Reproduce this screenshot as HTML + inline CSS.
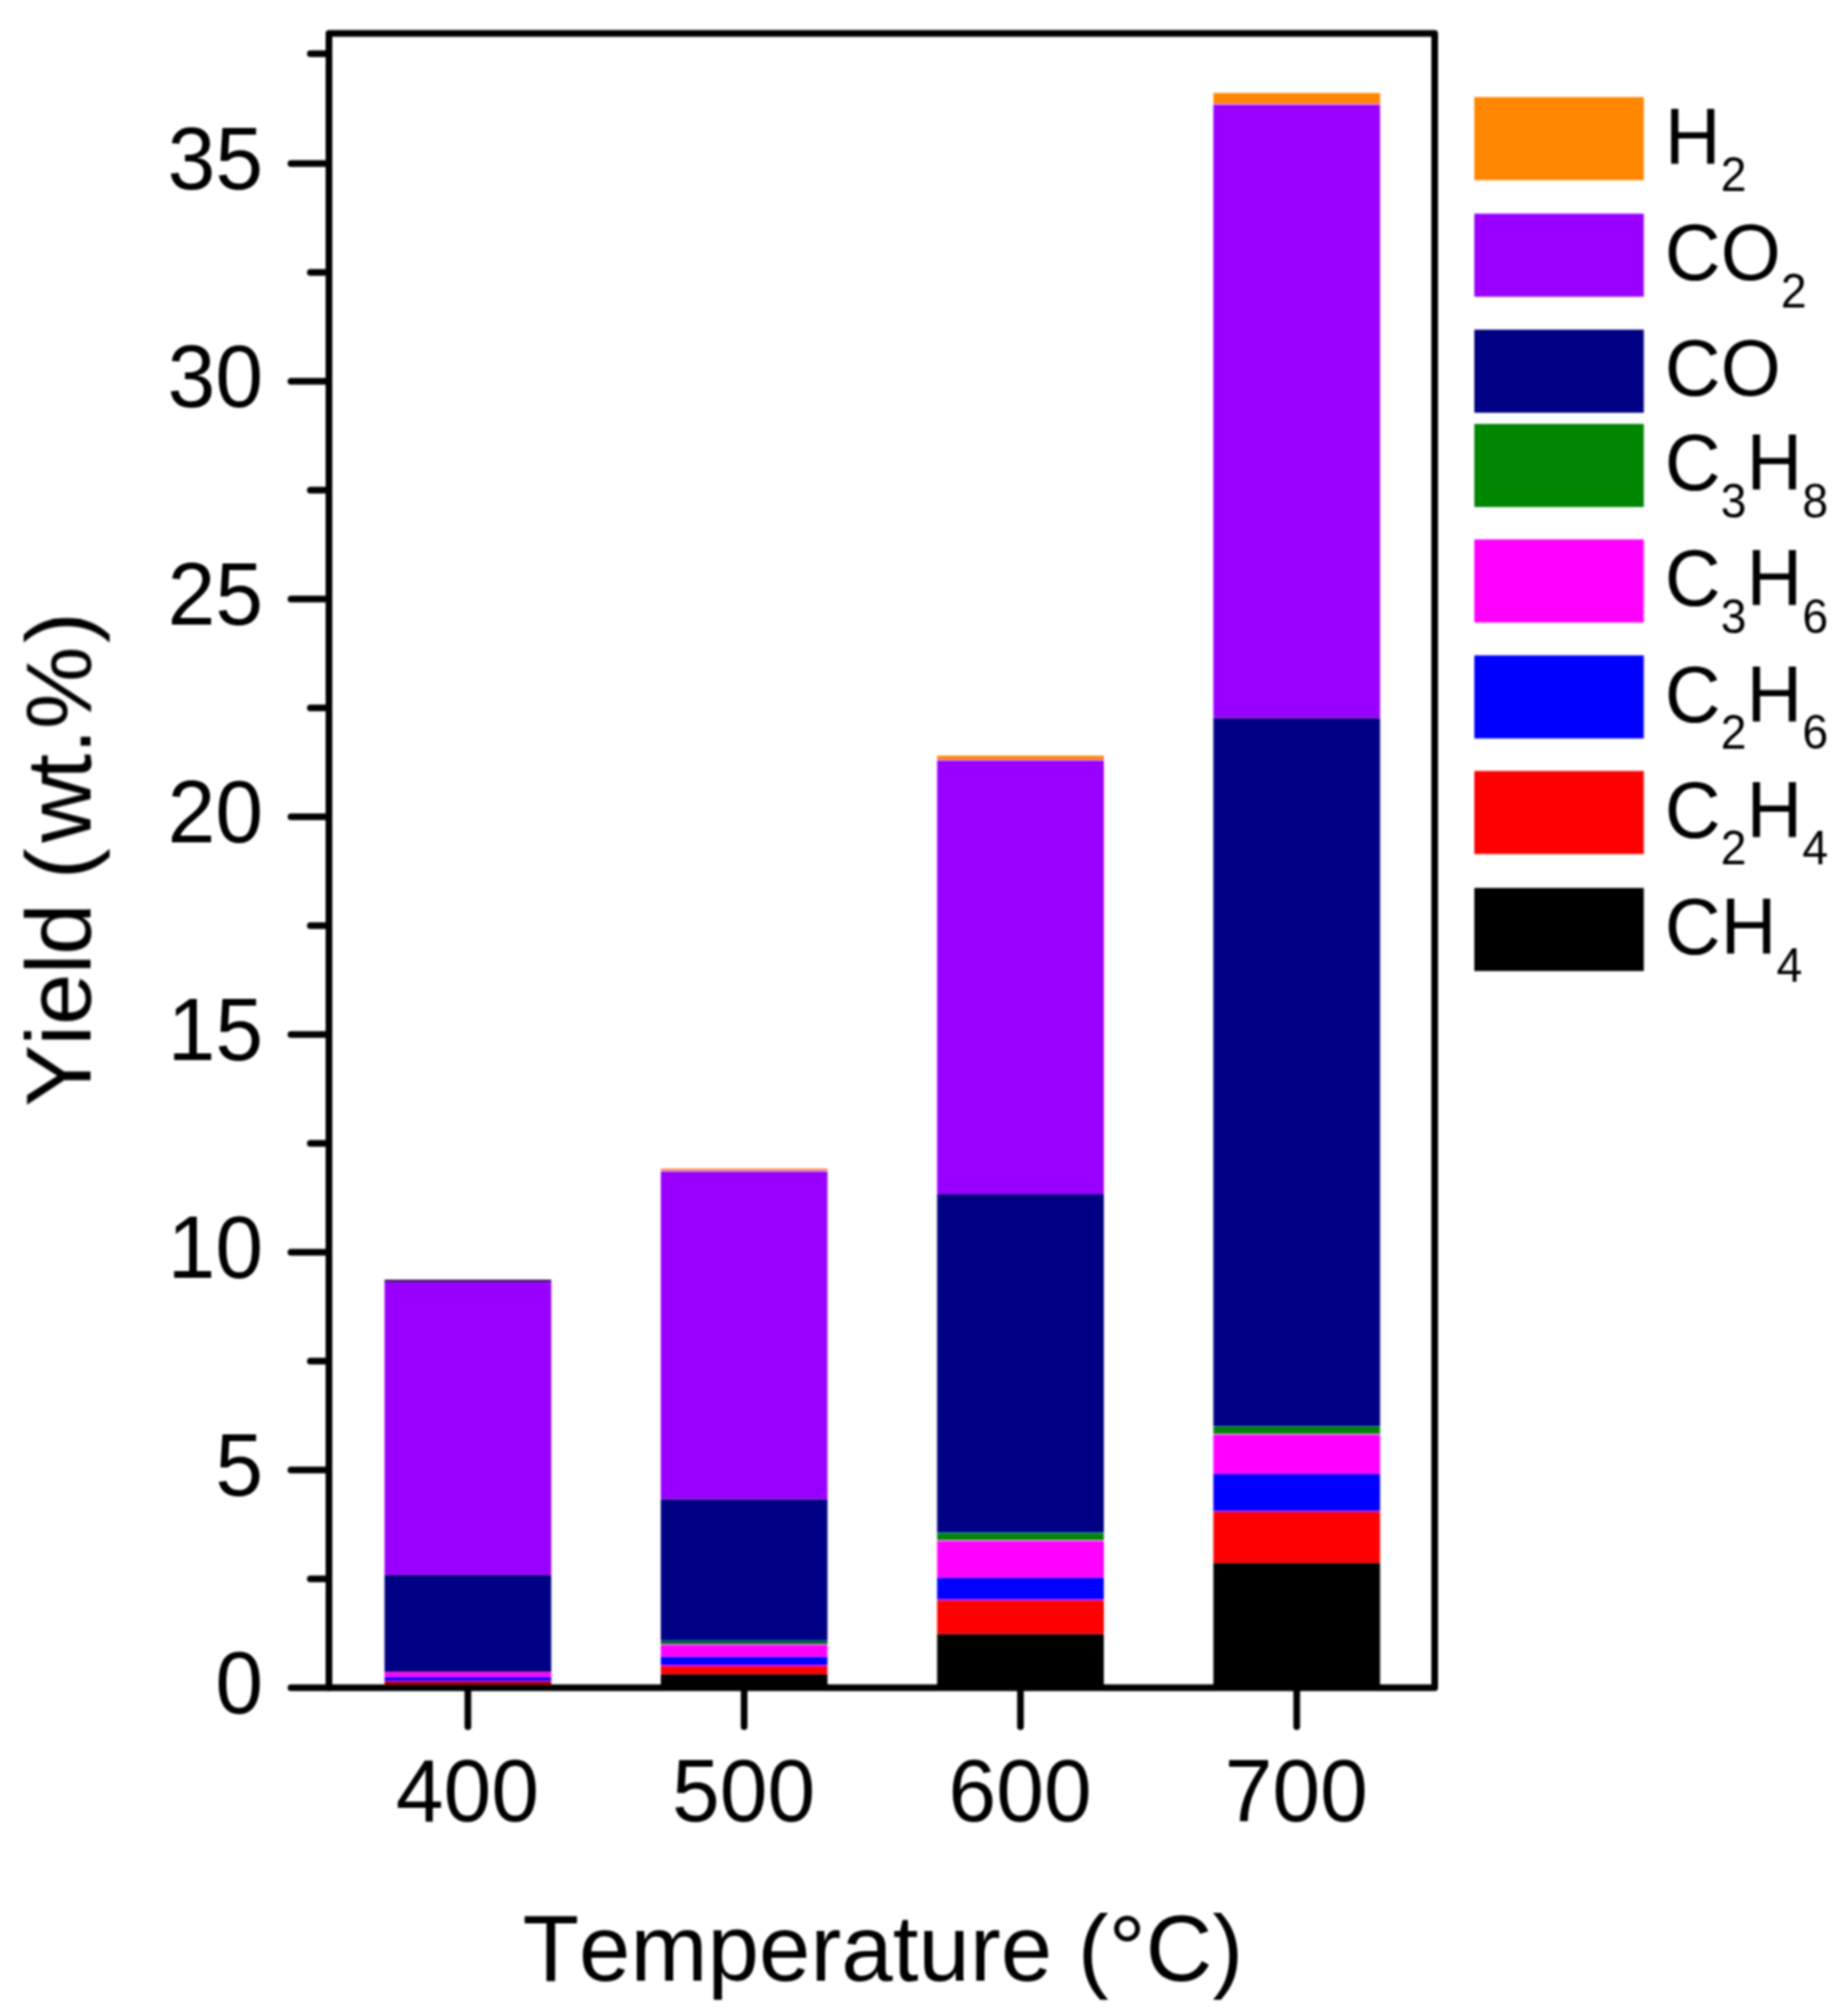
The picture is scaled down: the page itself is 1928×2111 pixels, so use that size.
<!DOCTYPE html>
<html lang="en">
<head>
<meta charset="utf-8">
<title>Gas yield vs temperature</title>
<style>
html,body{margin:0;padding:0;background:#fff;}
body{width:1928px;height:2111px;overflow:hidden;}
svg{display:block;}
text{font-family:"Liberation Sans",Arial,Helvetica,sans-serif;fill:#000;font-kerning:none;font-variant-ligatures:none;}
.tick{font-size:90px;}
.title{font-size:97px;}
.leg{font-size:80px;}
.sub{font-size:48px;}
.ax{stroke:#000;stroke-width:7;fill:none;stroke-linecap:round;stroke-linejoin:round;}
</style>
</head>
<body>
<svg width="1928" height="2111" viewBox="0 0 1928 2111">
<rect x="0" y="0" width="1928" height="2111" fill="#ffffff"/>
<defs><filter id="soft" x="0" y="0" width="1928" height="2111" filterUnits="userSpaceOnUse"><feGaussianBlur stdDeviation="1.0"/></filter></defs>
<g filter="url(#soft)">

<g id="bars">
<rect x="402.7" y="1340.0" width="174.6" height="2.8" fill="#40006E"/>
<rect x="402.7" y="1342.8" width="174.6" height="306.0" fill="#9900FF"/>
<rect x="402.7" y="1648.8" width="174.6" height="102.6" fill="#000084"/>
<rect x="402.7" y="1751.4" width="174.6" height="4.3" fill="#FF00FF"/>
<rect x="402.7" y="1755.7" width="174.6" height="4.5" fill="#0000FF"/>
<rect x="402.7" y="1760.2" width="174.6" height="4.0" fill="#A80000"/>
<rect x="402.7" y="1764.2" width="174.6" height="3.8" fill="#000000"/>
<rect x="692.0" y="1223.6" width="174.6" height="2.8" fill="#FF8A55"/>
<rect x="692.0" y="1226.4" width="174.6" height="343.3" fill="#9900FF"/>
<rect x="692.0" y="1569.7" width="174.6" height="148.3" fill="#000084"/>
<rect x="692.0" y="1718.0" width="174.6" height="4.3" fill="#006622"/>
<rect x="692.0" y="1722.3" width="174.6" height="12.2" fill="#FF00FF"/>
<rect x="692.0" y="1734.5" width="174.6" height="9.7" fill="#0000FF"/>
<rect x="692.0" y="1744.2" width="174.6" height="8.5" fill="#FF0000"/>
<rect x="692.0" y="1752.7" width="174.6" height="15.3" fill="#000000"/>
<rect x="981.4" y="791.3" width="174.6" height="4.7" fill="#FF8600"/>
<rect x="981.4" y="796.0" width="174.6" height="454.0" fill="#9900FF"/>
<rect x="981.4" y="1250.0" width="174.6" height="355.3" fill="#000084"/>
<rect x="981.4" y="1605.3" width="174.6" height="8.1" fill="#008600"/>
<rect x="981.4" y="1613.4" width="174.6" height="38.2" fill="#FF00FF"/>
<rect x="981.4" y="1651.6" width="174.6" height="23.8" fill="#0000FF"/>
<rect x="981.4" y="1675.4" width="174.6" height="35.3" fill="#FF0000"/>
<rect x="981.4" y="1710.7" width="174.6" height="57.3" fill="#000000"/>
<rect x="1270.7" y="97.4" width="174.6" height="11.9" fill="#FF8600"/>
<rect x="1270.7" y="109.3" width="174.6" height="642.3" fill="#9900FF"/>
<rect x="1270.7" y="751.6" width="174.6" height="742.2" fill="#000084"/>
<rect x="1270.7" y="1493.8" width="174.6" height="8.2" fill="#008600"/>
<rect x="1270.7" y="1502.0" width="174.6" height="40.8" fill="#FF00FF"/>
<rect x="1270.7" y="1542.8" width="174.6" height="39.9" fill="#0000FF"/>
<rect x="1270.7" y="1582.7" width="174.6" height="53.5" fill="#FF0000"/>
<rect x="1270.7" y="1636.2" width="174.6" height="131.8" fill="#000000"/>
</g>
<g id="axes" class="ax">
<rect x="344.5" y="35.0" width="1158.0" height="1732.3"/>
<line x1="304.7" y1="1767.3" x2="344.5" y2="1767.3"/>
<line x1="325" y1="1653.3" x2="344.5" y2="1653.3"/>
<line x1="304.7" y1="1539.3" x2="344.5" y2="1539.3"/>
<line x1="325" y1="1425.3" x2="344.5" y2="1425.3"/>
<line x1="304.7" y1="1311.3" x2="344.5" y2="1311.3"/>
<line x1="325" y1="1197.3" x2="344.5" y2="1197.3"/>
<line x1="304.7" y1="1083.3" x2="344.5" y2="1083.3"/>
<line x1="325" y1="969.3" x2="344.5" y2="969.3"/>
<line x1="304.7" y1="855.3" x2="344.5" y2="855.3"/>
<line x1="325" y1="741.3" x2="344.5" y2="741.3"/>
<line x1="304.7" y1="627.3" x2="344.5" y2="627.3"/>
<line x1="325" y1="513.3" x2="344.5" y2="513.3"/>
<line x1="304.7" y1="399.3" x2="344.5" y2="399.3"/>
<line x1="325" y1="285.3" x2="344.5" y2="285.3"/>
<line x1="304.7" y1="171.3" x2="344.5" y2="171.3"/>
<line x1="325" y1="56.3" x2="344.5" y2="56.3"/>
<line x1="490.0" y1="1767.3" x2="490.0" y2="1808"/>
<line x1="779.3" y1="1767.3" x2="779.3" y2="1808"/>
<line x1="1068.7" y1="1767.3" x2="1068.7" y2="1808"/>
<line x1="1358.0" y1="1767.3" x2="1358.0" y2="1808"/>
</g>
<g id="ylabels" class="tick" text-anchor="end">
<text transform="translate(275.5 1793.6) scale(1 1.025)">0</text>
<text transform="translate(275.5 1565.6) scale(1 1.025)">5</text>
<text transform="translate(275.5 1337.6) scale(1 1.025)">10</text>
<text transform="translate(275.5 1109.6) scale(1 1.025)">15</text>
<text transform="translate(275.5 881.6) scale(1 1.025)">20</text>
<text transform="translate(275.5 653.6) scale(1 1.025)">25</text>
<text transform="translate(275.5 425.6) scale(1 1.025)">30</text>
<text transform="translate(275.5 197.6) scale(1 1.025)">35</text>
</g>
<g id="xlabels" class="tick" text-anchor="middle">
<text transform="translate(489.5 1907.3) scale(1 1.025)">400</text>
<text transform="translate(778.8 1907.3) scale(1 1.025)">500</text>
<text transform="translate(1068.2 1907.3) scale(1 1.025)">600</text>
<text transform="translate(1357.5 1907.3) scale(1 1.025)">700</text>
</g>
<text class="title" text-anchor="middle" transform="translate(924.6 2073.6) scale(0.999 1.015)">Temperature (°C)</text>
<text class="title" text-anchor="middle" transform="translate(94.8 901.9) rotate(-90) scale(1.002 1)" dx="1.9 -0.8 0 -0.7 -1.5 0 -1.7 5.8 -4.2 -0.3 -0.7 3.7">Yield (wt.%)</text>
<g id="legend">
<rect x="1544.0" y="101.7" width="177.5" height="87.0" fill="#FF8600"/>
<text class="leg" transform="translate(1743.6 172.0) scale(1.012 1.04)"><tspan>H</tspan><tspan class="sub" dy="27.2">2</tspan></text>
<rect x="1544.0" y="223.7" width="177.5" height="87.0" fill="#9900FF"/>
<text class="leg" transform="translate(1743.6 293.2) scale(1.012 1.04)"><tspan>CO</tspan><tspan class="sub" dy="27.2">2</tspan></text>
<rect x="1544.0" y="345.2" width="177.5" height="87.0" fill="#000084"/>
<text class="leg" transform="translate(1743.6 414.1) scale(1.012 1.04)"><tspan>CO</tspan></text>
<rect x="1544.0" y="443.9" width="177.5" height="87.0" fill="#008600"/>
<text class="leg" transform="translate(1743.6 513.4) scale(1.012 1.04)"><tspan>C</tspan><tspan class="sub" dy="27.2">3</tspan><tspan dy="-27.2">H</tspan><tspan class="sub" dy="27.2">8</tspan></text>
<rect x="1544.0" y="564.8" width="177.5" height="87.0" fill="#FF00FF"/>
<text class="leg" transform="translate(1743.6 634.3) scale(1.012 1.04)"><tspan>C</tspan><tspan class="sub" dy="27.2">3</tspan><tspan dy="-27.2">H</tspan><tspan class="sub" dy="27.2">6</tspan></text>
<rect x="1544.0" y="686.3" width="177.5" height="87.0" fill="#0000FF"/>
<text class="leg" transform="translate(1743.6 755.8) scale(1.012 1.04)"><tspan>C</tspan><tspan class="sub" dy="27.2">2</tspan><tspan dy="-27.2">H</tspan><tspan class="sub" dy="27.2">6</tspan></text>
<rect x="1544.0" y="807.3" width="177.5" height="87.0" fill="#FF0000"/>
<text class="leg" transform="translate(1743.6 876.8) scale(1.012 1.04)"><tspan>C</tspan><tspan class="sub" dy="27.2">2</tspan><tspan dy="-27.2">H</tspan><tspan class="sub" dy="27.2">4</tspan></text>
<rect x="1544.0" y="929.8" width="177.5" height="87.0" fill="#000000"/>
<text class="leg" transform="translate(1743.6 999.3) scale(1.012 1.04)"><tspan>CH</tspan><tspan class="sub" dy="27.2">4</tspan></text>
</g>
</g>
</svg>
</body>
</html>
